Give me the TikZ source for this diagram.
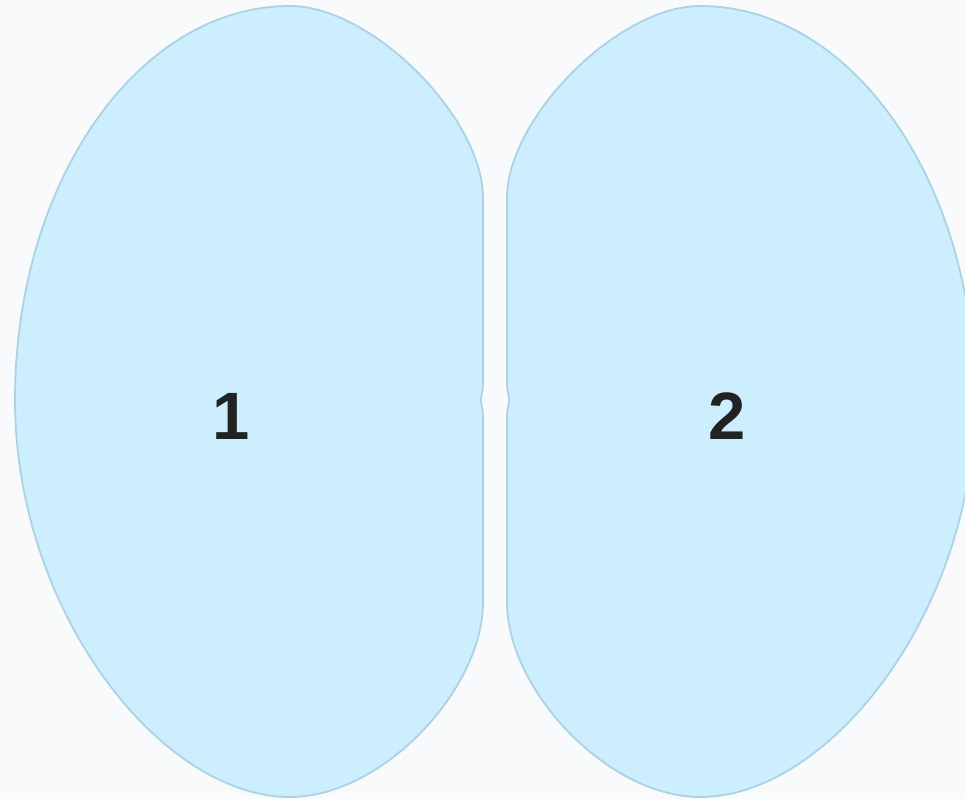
\documentclass[tikz,border=0pt]{standalone}
\usepackage{fontspec}
\setmainfont{Liberation Sans}
\definecolor{bgcol}{HTML}{F8FAFC}
\definecolor{lobecol}{HTML}{CCEEFF}
\definecolor{lobeedge}{HTML}{AAD3E6}
\definecolor{numcol}{HTML}{222222}
\begin{document}
\begin{tikzpicture}[x=1pt,y=-1pt,
  lobe/.style={fill=lobecol,draw=lobeedge,line width=1.8pt},
  num/.style={font=\fontsize{67}{80}\selectfont\bfseries,text=numcol,inner sep=0pt}]
\useasboundingbox (0,0) rectangle (965,799);
\clip (0,0) rectangle (965,799);
\fill[bgcol] (0,0) rectangle (965,799);
% lobe 1
\path[lobe] (290,6) .. controls (372,6) and (483,118) .. (483,198)
  -- (483,382) .. controls (483,393) and (481,394) .. (481,400)
  .. controls (481,406) and (483,407) .. (483,418)
  -- (483,602) .. controls (483,690) and (382,797) .. (290,797)
  .. controls (160,797) and (15,610) .. (15,400)
  .. controls (15,182) and (138,6) .. (290,6) -- cycle;
% lobe 2
\path[lobe] (700,6) .. controls (618,6) and (507,118) .. (507,198)
  -- (507,382) .. controls (507,393) and (509,394) .. (509,400)
  .. controls (509,406) and (507,407) .. (507,418)
  -- (507,602) .. controls (507,690) and (608,797) .. (700,797)
  .. controls (830,797) and (975,610) .. (975,400)
  .. controls (975,182) and (852,6) .. (700,6) -- cycle;
\node[num] (n1) at (231,416) {1};
\node[num] (n2) at (727,416) {2};
\end{tikzpicture}
\end{document}
